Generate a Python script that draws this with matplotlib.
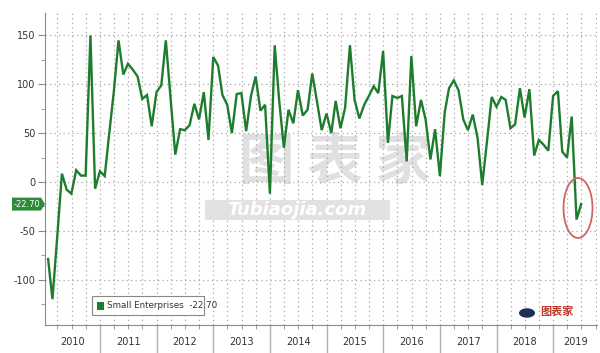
import matplotlib
matplotlib.use("Agg")
import matplotlib.pyplot as plt
import matplotlib.dates as mdates
from matplotlib.patches import Rectangle, Ellipse, Circle, Polygon
import pandas as pd
import numpy as np

plt.rcParams['font.family'] = ['DejaVu Sans', 'Noto Sans CJK SC']

# ---- data (monthly, Jan 2010 - Jun 2019) ----
values = [
    -79, -120, -56, 8.5, -8, -12, 12, 6.5, 6.5, 150, -7, 11,            # 2010
    6, 48, 93, 145, 110, 121, 115, 108, 85, 89, 57, 92,                  # 2011
    99, 145, 85, 28, 54, 53, 58, 80, 64, 92, 43, 128,                    # 2012
    119, 89, 79, 50, 90, 91, 52, 88, 108, 73, 79, -12,                   # 2013
    140, 85, 35, 74, 60, 94, 68, 74, 111, 82, 53, 70,                    # 2014
    50, 83, 55, 76, 140, 84, 65, 79, 88, 98, 91, 134,                    # 2015
    40, 88, 86, 88, 21, 129, 57, 84, 64, 23, 54, 6,                      # 2016
    71, 96, 104, 94, 64, 53, 69, 45, -3, 42, 87, 77,                     # 2017
    87, 84, 55, 59, 96, 66, 95, 27, 43, 38, 32, 88,                      # 2018
    93, 31, 25, 67, -38.5, -22.7,                                        # 2019
]
dates = pd.date_range('2010-01-31', periods=len(values), freq='ME')
series_name = "Small Enterprises"
last_label = "-22.70"
years = list(range(2010, 2020))
yticks = [-100, -50, 0, 50, 100, 150]

W, H = 600, 353
fig = plt.figure(figsize=(W / 100, H / 100), dpi=100)
fig.patch.set_facecolor('white')
L, R, T, B = 45, 597, 13, 325
ax = fig.add_axes([L / W, 1 - B / H, (R - L) / W, (B - T) / H])

xmin = mdates.date2num(pd.Timestamp('2010-01-11'))
xmax = mdates.date2num(pd.Timestamp('2019-10-10'))
ax.set_xlim(xmin, xmax)
ax.set_ylim(-146.5, 173)

grid_c = '#a8a8a8'
spine_c = '#8c8c8c'

# gridlines
for y in yticks:
    ax.axhline(y, color=grid_c, lw=0.9, ls=(0, (1, 2.6)), zorder=1)
qdates = pd.date_range('2010-01-01', '2019-10-01', freq='QS')
for d in qdates:
    xd = mdates.date2num(d)
    if xmin < xd < xmax:
        ax.axvline(xd, color=grid_c, lw=0.9, ls=(0, (1, 2.6)), zorder=1)

# watermark
ax.text(0.525, 0.52, "图 表 家", transform=ax.transAxes, ha='center', va='center',
        fontsize=40, color='#e0e0e0', family=['Noto Sans CJK SC'], fontweight='bold', zorder=0)
fig.patches.append(Rectangle((205 / W, 1 - 220 / H), 185 / W, 20 / H, transform=fig.transFigure,
                             facecolor='#e2e2e2', edgecolor='none', zorder=0))
fig.text(297 / W, 1 - 210 / H, "Tubiaojia.com", ha='center', va='center', fontsize=13,
         color='white', fontweight='bold', style='italic', zorder=1)

# line
ax.plot(mdates.date2num(dates), values, color='#1e7d2c', lw=1.7, zorder=3, solid_joinstyle='miter')

# spines
for s in ['top', 'right']:
    ax.spines[s].set_visible(False)
ax.spines['left'].set_color(spine_c)
ax.spines['bottom'].set_color(spine_c)
ax.set_facecolor('none')

# y ticks
ax.set_yticks(yticks)
ax.set_yticklabels([str(v) for v in yticks], fontsize=7, color='#333333')
ax.set_yticks([v + 25 for v in yticks[:-1]] + [-125], minor=True)
ax.tick_params(axis='y', which='major', length=5, color=spine_c, pad=2)
ax.tick_params(axis='y', which='minor', length=3, color=spine_c)

# x ticks: year boundaries long, quarters short
ybounds = [mdates.date2num(pd.Timestamp(f'{y}-01-01')) for y in years[1:]]
ax.set_xticks(ybounds)
ax.set_xticklabels([])
ax.tick_params(axis='x', which='major', length=21, color='#b0b0b0', width=1)
ax.set_xticks([mdates.date2num(d) for d in qdates if xmin < mdates.date2num(d) < xmax], minor=True)
ax.tick_params(axis='x', which='minor', length=3, color=spine_c)
edges = [xmin] + ybounds + [xmax]
for i, y in enumerate(years):
    c = (edges[i] + edges[i + 1]) / 2
    ax.text(c, -0.055, str(y), transform=ax.get_xaxis_transform(), ha='center', va='center',
            fontsize=7, color='#333333')

# last-value label on the left
yv = values[-1]
yp = ax.transData.transform((xmin, yv))[1]
yfig = yp / (H)
bx0, bx1 = 12 / W, 41 / W
bh = 13 / H
fig.patches.append(Polygon([(bx0, yfig - bh / 2), (bx1, yfig - bh / 2), (45 / W, yfig),
                            (bx1, yfig + bh / 2), (bx0, yfig + bh / 2)], closed=True,
                           transform=fig.transFigure, facecolor='#2e8b3a', edgecolor='none'))
fig.text((bx0 + bx1) / 2, yfig, last_label, ha='center', va='center', fontsize=6, color='white')

# legend box
fig.patches.append(Rectangle((92 / W, 1 - 315 / H), 112 / W, 19 / H, transform=fig.transFigure,
                             facecolor='white', edgecolor='#888888', lw=0.8, zorder=5))
fig.patches.append(Rectangle((97 / W, 1 - 310 / H), 7 / W, 8 / H, transform=fig.transFigure,
                             facecolor='#1e7d2c', edgecolor='none', zorder=6))
fig.text(107 / W, 1 - 305.5 / H, f"{series_name}  {last_label}", ha='left', va='center',
         fontsize=6.3, color='#333333', zorder=7)

# red ellipse highlight
fig.patches.append(Ellipse((578 / W, 1 - 208 / H), 29 / W, 60 / H, transform=fig.transFigure,
                           facecolor='none', edgecolor='#d06464', lw=1.3, zorder=6))

# bottom-right logo
fig.patches.append(Circle((527 / W, 1 - 313 / H), 8 / W, transform=fig.transFigure,
                          facecolor='#1c2f55', edgecolor='none', zorder=6))
fig.text(557 / W, 1 - 311 / H, "图表家", ha='center', va='center', fontsize=8,
         color='#c0392b', family=['Noto Sans CJK SC'], fontweight='bold', zorder=7)

fig.savefig('out.png', dpi=100, facecolor='white')
